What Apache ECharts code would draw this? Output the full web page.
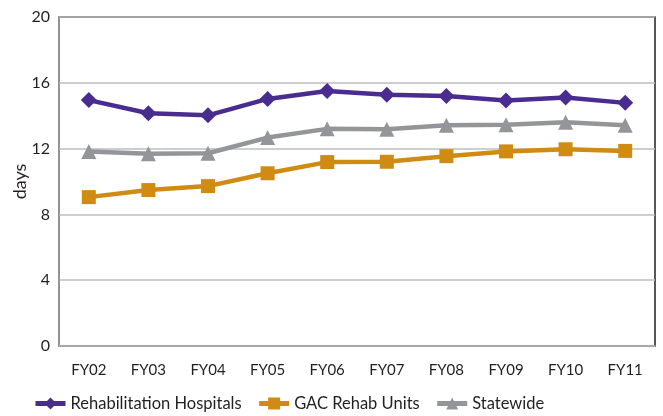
<!DOCTYPE html>
<html>
<head>
<meta charset="utf-8">
<script src="https://cdn.jsdelivr.net/npm/echarts@6/dist/echarts.min.js"></script>
<style>
  html, body { margin: 0; padding: 0; background: #fff; }
  #chart { width: 663px; height: 416px; }
</style>
</head>
<body>
<div id="chart"></div>
<script>
  var categories = ['FY02', 'FY03', 'FY04', 'FY05', 'FY06', 'FY07', 'FY08', 'FY09', 'FY10', 'FY11'];
  var rehabHospitals = [14.95, 14.15, 14.02, 15.02, 15.5, 15.27, 15.2, 14.92, 15.1, 14.78];
  var gacRehabUnits = [9.05, 9.48, 9.72, 10.5, 11.18, 11.2, 11.54, 11.83, 11.96, 11.86];
  var statewide = [11.82, 11.68, 11.72, 12.67, 13.2, 13.17, 13.42, 13.45, 13.6, 13.42];
  var yTicks = [0, 4, 8, 12, 16, 20];

  var font = 'Lato';
  var myChart = echarts.init(document.getElementById('chart'));

  function line(name, data, color, symbol, size) {
    return {
      name: name,
      type: 'line',
      data: data,
      symbol: symbol,
      symbolSize: size,
      lineStyle: { color: color, width: 4.5 },
      itemStyle: { color: color },
      animation: false
    };
  }

  myChart.setOption({
    animation: false,
    textStyle: { fontFamily: font },
    grid: {
      left: 59,
      right: 8,
      top: 17,
      bottom: 70,
      outerBoundsMode: 'none',
      containLabel: false,
      show: true,
      borderColor: '#231f20',
      borderWidth: 1.5
    },
    legend: {
      left: 33,
      top: 395,
      width: 900,
      padding: 0,
      itemWidth: 30,
      itemHeight: 15,
      itemGap: 15,
      lineStyle: { width: 5 },
      textStyle: { fontFamily: font, fontSize: 16.5, color: '#231f20' },
      data: ['Rehabilitation Hospitals', 'GAC Rehab Units', 'Statewide']
    },
    xAxis: {
      type: 'category',
      data: categories,
      boundaryGap: true,
      axisLine: { show: true, lineStyle: { color: '#a7a9ac', width: 1.5 } },
      axisTick: { show: false },
      axisLabel: { color: '#231f20', fontSize: 15, margin: 17, fontFamily: font }
    },
    yAxis: {
      type: 'value',
      min: yTicks[0],
      max: yTicks[yTicks.length - 1],
      interval: 4,
      name: 'days',
      nameLocation: 'middle',
      nameGap: 30,
      nameMoveOverlap: false,
      nameTextStyle: { color: '#231f20', fontSize: 18, fontFamily: font },
      axisLine: { show: true, lineStyle: { color: '#a7a9ac', width: 1.5 } },
      axisTick: { show: false },
      splitLine: { show: true, lineStyle: { color: '#bcbec0', width: 1.5 } },
      axisLabel: { color: '#231f20', fontSize: 16, margin: 9, fontFamily: font }
    },
    series: [
      line('Rehabilitation Hospitals', rehabHospitals, '#4a2c91', 'diamond', 16),
      line('GAC Rehab Units', gacRehabUnits, '#d08b12', 'rect', 14),
      line('Statewide', statewide, '#939598', 'triangle', 15)
    ]
  });
</script>
</body>
</html>
